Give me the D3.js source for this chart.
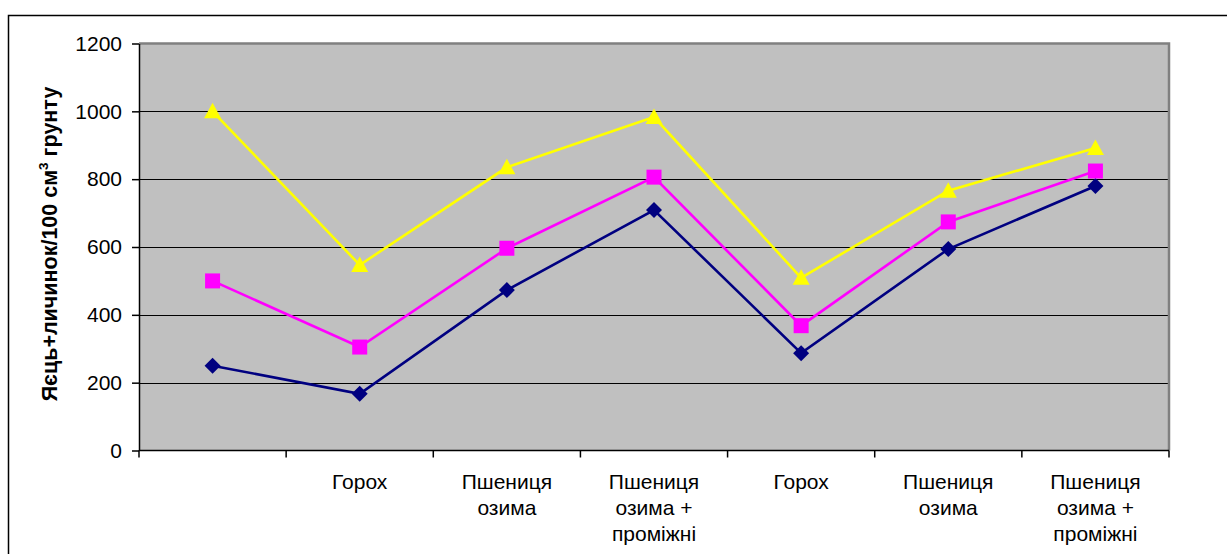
<!DOCTYPE html>
<html><head><meta charset="utf-8">
<script src="https://cdn.jsdelivr.net/npm/d3@7"></script>
<style>body{margin:0;background:#fff;}svg{display:block;}</style>
</head><body>
<svg id="c" width="1227" height="554"></svg>
<script>
const categories = ["", "Горох", "Пшениця озима", "Пшениця озима + проміжні", "Горох", "Пшениця озима", "Пшениця озима + проміжні"];
const categoryLines = [[], ["Горох"], ["Пшениця", "озима"], ["Пшениця", "озима +", "проміжні"], ["Горох"], ["Пшениця", "озима"], ["Пшениця", "озима +", "проміжні"]];
const seriesBlue = [250, 167, 473, 709, 287, 594, 780];
const seriesPink = [500, 305, 596, 806, 368, 674, 824];
const seriesYellow = [1000, 547, 835, 983, 509, 766, 892];
const yTicks = [0, 200, 400, 600, 800, 1000, 1200];
const yTitle = "Яєць+личинок/100 см";

const svg = d3.select("#c");
const L = 139, R = 1169, T = 43.5, B = 450.5;
const font = "'Liberation Sans', Arial, sans-serif";

// outer border
svg.append("path").attr("d", `M8.5,560 V15.5 H1240`).attr("fill", "none").attr("stroke", "#000").attr("stroke-width", 1.5);

const x = d3.scaleBand().domain(d3.range(categories.length)).range([L, R]).padding(0);
const y = d3.scaleLinear().domain([0, 1200]).range([B, T]);

// plot background
svg.append("rect").attr("x", L).attr("y", T).attr("width", R - L).attr("height", B - T).attr("fill", "#C0C0C0");

// gridlines
svg.append("g").selectAll("line").data(yTicks.filter(d => d > 0 && d < 1200)).join("line")
  .attr("x1", L).attr("x2", R).attr("y1", d => Math.round(y(d)) + 0.5).attr("y2", d => Math.round(y(d)) + 0.5)
  .attr("stroke", "#000").attr("stroke-width", 1.2);

// plot border (top/right gray)
svg.append("path").attr("d", `M${L},${T} H${R} V${B}`).attr("fill", "none").attr("stroke", "#808080").attr("stroke-width", 2.5);

// y axis
const yAxis = svg.append("g").attr("transform", `translate(${L},0)`)
  .call(d3.axisLeft(y).tickValues(yTicks).tickFormat(d3.format("d")).tickSize(7).tickPadding(10).tickSizeOuter(0));
yAxis.select(".domain").attr("stroke", "#000").attr("stroke-width", 1.5);
yAxis.selectAll(".tick line").attr("stroke", "#000").attr("stroke-width", 1.5);
yAxis.selectAll(".tick text").attr("font-family", font).attr("font-size", 21).attr("fill", "#000");

// x axis
const xAxis = svg.append("g").attr("transform", `translate(0,${B})`);
xAxis.append("line").attr("x1", L).attr("x2", R).attr("y1", 0).attr("y2", 0).attr("stroke", "#000").attr("stroke-width", 1.5);
const bounds = d3.range(categories.length + 1).map(i => i < categories.length ? x(i) : x(categories.length - 1) + x.bandwidth());
xAxis.selectAll(".tk").data(bounds).join("line").attr("class", "tk")
  .attr("x1", d => d).attr("x2", d => d).attr("y1", 0).attr("y2", 7).attr("stroke", "#000").attr("stroke-width", 1.5);
categoryLines.forEach((lines, i) => {
  const t = xAxis.append("text").attr("font-family", font).attr("font-size", 21).attr("fill", "#000")
    .attr("text-anchor", "middle").attr("transform", `translate(${x(i) + x.bandwidth() / 2},0)`);
  lines.forEach((ln, j) => t.append("tspan").attr("x", 0).attr("y", 38.5 + j * 25.8).text(ln));
});

// y title
const yt = svg.append("text").attr("font-family", font).attr("font-size", 21.5).attr("font-weight", "bold")
  .attr("text-anchor", "middle").attr("transform", `translate(56.5,244) rotate(-90)`);
yt.append("tspan").text(yTitle);
yt.append("tspan").attr("font-size", 13.5).attr("dy", -8.5).text("3");
yt.append("tspan").attr("dy", 8.5).text(" грунту");

const cx = i => x(i) + x.bandwidth() / 2;
const line = d3.line().x((d, i) => cx(i)).y(d => y(d));

const series = [
  {data: seriesBlue, color: "#000080", shape: "diamond"},
  {data: seriesPink, color: "#FF00FF", shape: "square"},
  {data: seriesYellow, color: "#FFFF00", shape: "triangle"}
];
series.forEach(s => {
  svg.append("path").datum(s.data).attr("d", line).attr("fill", "none").attr("stroke", s.color).attr("stroke-width", 2.6);
});
series.forEach(s => {
  const g = svg.append("g");
  s.data.forEach((v, i) => {
    const px = cx(i), py = y(v);
    let d;
    if (s.shape === "diamond") d = `M${px},${py - 8} L${px + 8},${py} L${px},${py + 8} L${px - 8},${py} Z`;
    else if (s.shape === "square") d = `M${px - 7.5},${py - 7.5} h15 v15 h-15 Z`;
    else d = `M${px},${py - 8.5} L${px + 8.5},${py + 7} L${px - 8.5},${py + 7} Z`;
    g.append("path").attr("d", d).attr("fill", s.color);
  });
});
</script>
</body></html>
